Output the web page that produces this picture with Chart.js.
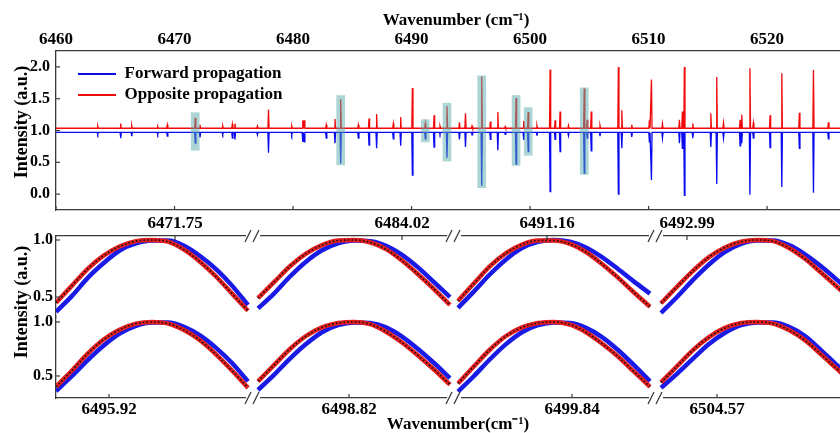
<!DOCTYPE html>
<html><head><meta charset="utf-8">
<script src="https://cdn.jsdelivr.net/npm/chart.js@4/dist/chart.umd.min.js"></script>
<style>
html,body{margin:0;padding:0;background:#fff;overflow:hidden;}
#wrap{position:relative;width:840px;height:433px;overflow:hidden;background:#fff;}
canvas{position:absolute;left:0;}
#topChart{top:0;}
#zoomChart{top:205px;}
</style></head><body>
<div id="wrap">
<canvas id="topChart" width="856" height="212"></canvas>
<canvas id="zoomChart" width="856" height="228"></canvas>
</div>
<script>
// ================= DATA =================
// Overview spectrum: tick labels
const xTicks = [6460, 6470, 6480, 6490, 6500, 6510, 6520];
const yTicks = [0, 0.5, 1.0, 1.5, 2.0];
// Absorption lines (cm-1) and line-top values of the two traces
const peakPos = [6463.52, 6465.46, 6466.39, 6468.58, 6469.39, 6471.75, 6472.15, 6474.07, 6474.88, 6475.10,
  6477.00, 6477.93, 6479.89, 6480.82, 6480.95, 6482.80, 6483.54, 6484.02, 6485.51, 6486.41,
  6487.05, 6488.46, 6489.08, 6490.07, 6491.16, 6491.90, 6492.40, 6492.99, 6494.04, 6494.55,
  6495.10, 6495.92, 6496.65, 6497.28, 6497.90, 6498.82, 6499.46, 6499.84, 6500.58, 6501.69,
  6502.11, 6502.53, 6503.24, 6504.57, 6504.82, 6505.16, 6505.90, 6507.45, 6507.74, 6508.58,
  6510.07, 6510.24, 6511.17, 6512.60, 6512.85, 6513.02, 6513.73, 6515.25, 6515.75, 6516.32,
  6517.72, 6517.86, 6518.55, 6518.84, 6520.25, 6521.24, 6522.72, 6523.91, 6525.17];
const oppositePeak = [1.07, 1.11, 1.08, 1.06, 1.09, 1.20, 1.09, 1.07, 1.10, 1.11,
  1.07, 1.33, 1.07, 1.16, 1.16, 1.09, 1.18, 1.49, 1.09, 1.19,
  1.26, 1.11, 1.21, 1.67, 1.11, 1.24, 1.07, 1.38, 1.13, 1.27,
  1.07, 1.85, 1.14, 1.29, 1.06, 1.51, 1.15, 1.29, 1.08, 1.96,
  1.16, 1.30, 1.08, 1.66, 1.17, 1.30, 1.08, 2.00, 1.32, 1.09,
  1.17, 1.80, 1.11, 1.17, 1.30, 2.00, 1.11, 1.27, 1.84, 1.12,
  1.17, 1.25, 1.98, 1.12, 1.24, 1.90, 1.28, 1.95, 1.13];
const forwardPeak = [0.94, 0.88, 0.91, 0.94, 0.91, 0.80, 0.89, 0.94, 0.88, 0.86,
  0.93, 0.65, 0.93, 0.82, 0.82, 0.88, 0.80, 0.48, 0.88, 0.77,
  0.72, 0.87, 0.76, 0.30, 0.87, 0.74, 0.94, 0.57, 0.86, 0.74,
  0.93, 0.13, 0.86, 0.69, 0.94, 0.47, 0.85, 0.67, 0.92, 0.04,
  0.86, 0.67, 0.92, 0.33, 0.88, 0.68, 0.91, 0.00, 0.72, 0.90,
  0.81, 0.22, 0.88, 0.80, 0.72, -0.02, 0.88, 0.74, 0.16, 0.88,
  0.76, 0.80, -0.01, 0.88, 0.73, 0.11, 0.72, 0.02, 0.87];
const oppositeBaseline = 1.035;
const forwardBaseline = 0.97;
// Highlighted lines (shaded boxes): centre, lower and upper intensity
const markPos = [6471.75, 6484.02, 6491.16, 6492.99, 6495.92, 6498.82, 6499.84, 6504.57];
const markLow = [0.69, 0.46, 0.82, 0.52, 0.10, 0.45, 0.61, 0.31];
const markHigh = [1.28, 1.55, 1.17, 1.43, 1.86, 1.55, 1.36, 1.67];

// Zoomed line profiles (normalised), 13 samples per line
const upperLines = [6471.75, 6484.02, 6491.16, 6492.99];
const lowerLines = [6495.92, 6498.82, 6499.84, 6504.57];
const upperStart = [6471.7262, 6483.9912, 6491.1422, 6492.9848];
const lowerStart = [6495.9094, 6498.8018, 6499.8172, 6504.5588];
const sampleStep = 0.0032;
const zoomYTicks = [0.5, 1.0];
const upperOpposite = [
  [0.45, 0.60, 0.75, 0.865, 0.945, 0.99, 1.0, 0.985, 0.915, 0.81, 0.68, 0.53, 0.38],
  [0.49, 0.63, 0.77, 0.88, 0.955, 0.995, 1.0, 0.98, 0.92, 0.82, 0.70, 0.57, 0.43],
  [0.465, 0.62, 0.77, 0.885, 0.96, 0.995, 0.995, 0.965, 0.895, 0.79, 0.67, 0.54, 0.415],
  [0.445, 0.59, 0.73, 0.85, 0.935, 0.985, 1.0, 0.99, 0.93, 0.835, 0.715, 0.59, 0.46]];
const upperForward = [
  [0.37, 0.51, 0.67, 0.80, 0.91, 0.97, 0.995, 0.995, 0.95, 0.86, 0.745, 0.60, 0.43],
  [0.40, 0.53, 0.68, 0.81, 0.91, 0.97, 0.995, 0.99, 0.95, 0.87, 0.76, 0.63, 0.50],
  [0.405, 0.55, 0.70, 0.83, 0.93, 0.985, 1.0, 0.985, 0.935, 0.85, 0.745, 0.635, 0.53],
  [0.36, 0.50, 0.65, 0.785, 0.895, 0.965, 0.995, 0.995, 0.955, 0.875, 0.77, 0.65, 0.52]];
const lowerOpposite = [
  [0.40, 0.55, 0.71, 0.84, 0.93, 0.985, 1.0, 0.985, 0.925, 0.83, 0.70, 0.55, 0.39],
  [0.45, 0.60, 0.75, 0.87, 0.95, 0.99, 1.0, 0.98, 0.91, 0.81, 0.69, 0.56, 0.42],
  [0.43, 0.59, 0.745, 0.87, 0.95, 0.99, 1.0, 0.975, 0.905, 0.80, 0.68, 0.54, 0.40],
  [0.44, 0.59, 0.74, 0.86, 0.945, 0.99, 1.0, 0.985, 0.925, 0.83, 0.70, 0.565, 0.43]];
const lowerForward = [
  [0.36, 0.50, 0.65, 0.785, 0.895, 0.965, 0.995, 0.995, 0.955, 0.875, 0.76, 0.62, 0.45],
  [0.37, 0.51, 0.66, 0.795, 0.905, 0.97, 0.995, 0.99, 0.95, 0.865, 0.75, 0.62, 0.48],
  [0.355, 0.50, 0.655, 0.795, 0.905, 0.97, 0.995, 0.99, 0.945, 0.86, 0.74, 0.60, 0.45],
  [0.39, 0.52, 0.66, 0.795, 0.90, 0.97, 0.995, 0.995, 0.955, 0.87, 0.74, 0.60, 0.47]];

// ================= STYLE / LAYOUT =================
const SERIF = '"Liberation Serif", "Times New Roman", Times, serif';
const AXIS = '#3a3a3a';
const BLUE = '#0a0af0', RED = '#f00a0a';
const BLUE2 = '#1a1ae6', RED2 = '#e61e1e';
Chart.defaults.font.family = SERIF;
Chart.defaults.color = '#000';
// zoom panel: axis window (cm-1) and relative column widths
const zoomUnit = 0.0002;
const colWidth = [196, 201, 202, 201];
const upperAxisMin = [6471.7262, 6483.99, 6491.1412, 6492.9836];
const lowerAxisMin = [6495.9094, 6498.8006, 6499.8162, 6504.5576];

function textPlugin(items) {
  return { id: 'axisText', afterDraw(chart) {
    const ctx = chart.ctx;
    items.forEach(it => {
      ctx.save();
      ctx.font = 'bold ' + it.size + 'px ' + SERIF;
      ctx.fillStyle = '#000'; ctx.textAlign = 'center'; ctx.textBaseline = 'middle';
      ctx.translate(it.x, it.y);
      if (it.rotate) ctx.rotate(-Math.PI / 2);
      ctx.fillText(it.text, 0, 0);
      ctx.restore();
    });
  }};
}
function innerTicks(spec, len) {
  return { id: 'innerTicks', afterDraw(chart) {
    const ctx = chart.ctx;
    ctx.save(); ctx.strokeStyle = AXIS; ctx.lineWidth = 1.2;
    Object.entries(spec).forEach(([id, dir]) => {
      const s = chart.scales[id]; if (!s) return;
      s.ticks.forEach(t => {
        const p = s.getPixelForValue(t.value);
        ctx.beginPath();
        if (dir === 'down') { ctx.moveTo(p, s.bottom); ctx.lineTo(p, s.bottom + len); }
        else if (dir === 'up') { ctx.moveTo(p, s.top); ctx.lineTo(p, s.top - len); }
        else { ctx.moveTo(s.right, p); ctx.lineTo(s.right + len, p); }
        ctx.stroke();
      });
    });
    ctx.restore();
  }};
}
function spectrum(base, peaks) {
  const pts = [{x: 6460, y: base}];
  peakPos.forEach((p, i) => {
    pts.push({x: p - 0.05, y: base}, {x: p, y: peaks[i]}, {x: p + 0.05, y: base});
  });
  pts.push({x: 6527.5, y: base});
  return pts;
}
const noGrid = {display: false, drawTicks: false, tickLength: 0};
const border = {display: true, color: AXIS, width: 1.3};
const tickFont = {family: SERIF, size: 17, weight: 'bold'};
const fixV = w => s => { s.width = w; s.paddingTop = 0; s.paddingBottom = 0; };
const fixH = h => s => { s.height = h; s.paddingLeft = 0; s.paddingRight = 0; };

// ================= OVERVIEW CHART =================
new Chart(document.getElementById('topChart'), {
  type: 'line',
  data: { datasets: [
    { type: 'bar', label: '', data: markPos.map((p, i) => ({x: p, y: [markLow[i], markHigh[i]]})),
      backgroundColor: 'rgba(90,172,172,0.5)', borderWidth: 0, barThickness: 8, grouped: false, order: 0 },
    { label: 'Forward propagation', data: spectrum(forwardBaseline, forwardPeak),
      borderColor: BLUE, backgroundColor: BLUE, borderWidth: 1.3, pointRadius: 0, tension: 0, order: 1 },
    { label: 'Opposite propagation', data: spectrum(oppositeBaseline, oppositePeak),
      borderColor: RED, backgroundColor: RED, borderWidth: 1.3, pointRadius: 0, tension: 0, order: 2 }
  ]},
  options: {
    responsive: false, animation: false, devicePixelRatio: 1, events: [],
    layout: {padding: 0},
    scales: {
      x: { type: 'linear', position: 'top', min: 6460, max: 6527.5, offset: false,
        afterBuildTicks: s => { s.ticks = xTicks.map(v => ({value: v})); },
        ticks: {font: tickFont, color: '#000', padding: 1, autoSkip: false, maxRotation: 0, callback: v => String(v)},
        grid: noGrid, border: border,
        title: {display: true, text: 'Wavenumber (cm\u207B\u00B9)', color: '#000', font: tickFont, padding: {top: 10, bottom: 0}},
        afterFit: fixH(51) },
      x2: { type: 'linear', position: 'bottom', min: 6460, max: 6527.5, offset: false,
        afterBuildTicks: s => { s.ticks = xTicks.map(v => ({value: v})); },
        ticks: {display: false}, grid: noGrid, border: border,
        afterFit: fixH(2) },
      y: { type: 'linear', position: 'left', min: -0.25, max: 2.25,
        afterBuildTicks: s => { s.ticks = yTicks.map(v => ({value: v})); },
        ticks: {font: {family: SERIF, size: 16, weight: 'bold'}, color: '#000', padding: 6, callback: v => Number(v).toFixed(1)},
        grid: noGrid, border: border,
        afterFit: fixV(56) }
    },
    plugins: {
      tooltip: {enabled: false},
      legend: { display: true, position: 'chartArea', align: 'start',
        labels: { boxWidth: 38, boxHeight: 2, padding: 4, color: '#000',
          font: {family: SERIF, size: 17, weight: 'bold'},
          generateLabels: chart => chart.data.datasets.map((ds, i) => ({
            text: ds.label, fillStyle: ds.borderColor, strokeStyle: ds.borderColor,
            lineWidth: 0, hidden: false, datasetIndex: i, fontColor: '#000'})).filter(it => it.text) } }
    }
  },
  plugins: [
    { id: 'legendPlace', afterLayout(chart) {
        const lg = chart.legend; if (!lg) return;
        lg.left = chart.chartArea.left + 18; lg.top = chart.chartArea.top + 10.5;
        lg.right = lg.left + lg.width; lg.bottom = lg.top + lg.height; } },
    innerTicks({x2: 'up', y: 'right'}, 4),
    textPlugin([{text: 'Intensity (a.u.)', x: 22, y: 122, rotate: true, size: 18}])
  ]
});

// ================= ZOOMED LINE PROFILES =================
function profile(start, values) {
  return values.map((v, k) => ({x: start + k * sampleStep, y: v}));
}
const zDatasets = [];
const zScales = {
  y1: { type: 'linear', position: 'left', stack: 'rows', stackWeight: 1, weight: 2, min: 0.325, max: 1.035,
    afterBuildTicks: s => { s.ticks = zoomYTicks.map(v => ({value: v})); },
    ticks: {font: {family: SERIF, size: 16, weight: 'bold'}, color: '#000', padding: 3, callback: v => Number(v).toFixed(1)},
    grid: noGrid, border: border, afterFit: fixV(56) },
  y2: { type: 'linear', position: 'left', stack: 'rows', stackWeight: 1, weight: 1, min: 0.296, max: 1.046,
    afterBuildTicks: s => { s.ticks = zoomYTicks.map(v => ({value: v})); },
    ticks: {font: {family: SERIF, size: 16, weight: 'bold'}, color: '#000', padding: 3, callback: v => Number(v).toFixed(1)},
    grid: noGrid, border: border, afterFit: fixV(56) }
};
const tickSpec = {y1: 'right', y2: 'right'};
for (let c = 0; c < 4; c++) {
  const w = colWidth[c] * zoomUnit;
  zScales['xt' + c] = { type: 'linear', position: 'top', stack: 'colsTop', stackWeight: colWidth[c], weight: 4 - c,
    min: upperAxisMin[c], max: upperAxisMin[c] + w, offset: false,
    afterBuildTicks: s => { s.ticks = [{value: upperLines[c]}]; },
    ticks: {font: tickFont, color: '#000', padding: 2, autoSkip: false, maxRotation: 0, callback: v => Number(v).toFixed(2)},
    grid: noGrid, border: border, afterFit: fixH(31) };
  zScales['xb' + c] = { type: 'linear', position: 'bottom', stack: 'colsBottom', stackWeight: colWidth[c], weight: c + 1,
    min: lowerAxisMin[c], max: lowerAxisMin[c] + w, offset: false,
    afterBuildTicks: s => { s.ticks = [{value: lowerLines[c]}]; },
    ticks: {font: tickFont, color: '#000', padding: 1, autoSkip: false, maxRotation: 0, callback: v => Number(v).toFixed(2)},
    grid: noGrid, border: border, afterFit: fixH(35) };
  tickSpec['xt' + c] = 'down'; tickSpec['xb' + c] = 'up';
  [[upperStart[c], upperForward[c], upperOpposite[c], 'xt' + c, 'y1'],
   [lowerStart[c], lowerForward[c], lowerOpposite[c], 'xb' + c, 'y2']].forEach(([st, fwd, opp, xa, ya]) => {
    zDatasets.push({ label: 'Forward propagation', data: profile(st, fwd), xAxisID: xa, yAxisID: ya,
      borderColor: BLUE2, borderWidth: 4.5, pointRadius: 0, cubicInterpolationMode: 'monotone', order: 3 });
    zDatasets.push({ label: 'Opposite propagation', data: profile(st, opp), xAxisID: xa, yAxisID: ya,
      borderColor: RED2, borderWidth: 4.5, pointRadius: 0, cubicInterpolationMode: 'monotone', order: 2 });
    zDatasets.push({ label: 'Opposite (fit)', data: profile(st, opp), xAxisID: xa, yAxisID: ya,
      borderColor: '#111', borderWidth: 1.6, borderDash: [1.6, 2.2], pointRadius: 0, cubicInterpolationMode: 'monotone', order: 1 });
  });
}

new Chart(document.getElementById('zoomChart'), {
  type: 'line',
  data: {datasets: zDatasets},
  options: {
    responsive: false, animation: false, devicePixelRatio: 1, events: [],
    layout: {padding: 0},
    scales: zScales,
    plugins: {legend: {display: false}, tooltip: {enabled: false}}
  },
  plugins: [
    { id: 'cellPlace', afterLayout(chart) {
        const a = chart.chartArea;
        const total = colWidth.reduce((s, v) => s + v, 0);
        let acc = a.left;
        for (let c = 0; c < 4; c++) {
          const w = (a.right - a.left) * colWidth[c] / total;
          ['xt' + c, 'xb' + c].forEach(id => {
            const s = chart.scales[id];
            s.left = acc; s.right = acc + w; s.width = w; s.configure();
          });
          acc += w;
        }
        const h = (a.bottom - a.top) / 2;
        const y1 = chart.scales.y1, y2 = chart.scales.y2;
        y1.top = a.top; y1.bottom = a.top + h; y1.height = h; y1.configure();
        y2.top = a.top + h; y2.bottom = a.bottom; y2.height = h; y2.configure();
      } },
    innerTicks(tickSpec, 4),
    { id: 'breaks', afterDraw(chart) {
        const ctx = chart.ctx; const a = chart.chartArea;
        ctx.save();
        for (let c = 0; c < 3; c++) {
          const x = chart.scales['xt' + c].right;
          [a.top, a.bottom].forEach(y => {
            ctx.fillStyle = '#fff'; ctx.fillRect(x - 6, y - 2, 14, 4);
            ctx.strokeStyle = AXIS; ctx.lineWidth = 1.3;
            ctx.beginPath();
            ctx.moveTo(x - 7, y + 6); ctx.lineTo(x - 1, y - 6);
            ctx.moveTo(x + 1, y + 6); ctx.lineTo(x + 7, y - 6);
            ctx.stroke();
          });
        }
        ctx.restore();
      } },
    textPlugin([
      {text: 'Intensity (a.u.)', x: 22, y: 97, rotate: true, size: 18},
      {text: 'Wavenumber(cm\u207B\u00B9)', x: 458, y: 220, rotate: false, size: 17}
    ])
  ]
});
</script>
</body></html>
